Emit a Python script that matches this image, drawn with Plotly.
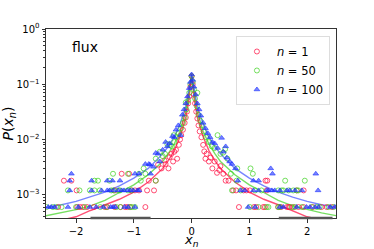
import plotly.graph_objects as go

# ---------------- data ----------------
LEVELS = [6.0e-4, 1.2e-3, 1.8e-3, 2.4e-3, 3.0e-3, 3.6e-3]

# tail (histogram count level) x-positions, keyed by level index (1 = lowest)
red_tail = {
    1: [-2.31, -1.98, -1.93, -1.88, -1.81, -1.69, -1.50, -1.46, -1.33, -1.23, -1.15, -1.11, -1.06, -0.80,
        0.82, 1.08, 1.12, 1.24, 1.27, 1.50, 1.55, 1.65, 1.68, 1.70, 1.76, 1.85, 1.94, 2.10, 2.25, 2.34, 2.43],
    2: [-1.99, -1.33, -1.04, -0.98, -0.91, -0.77, -0.65,
        0.72, 0.77, 0.90, 0.95, 1.01, 1.30, 1.82, 1.94],
    3: [-2.21, -2.08, -0.74, -0.62, 0.59, 0.64, 1.28, 1.31],
    4: [-1.21, -1.08],
}
green_tail = {
    1: [-2.51, -2.40, -2.34, -2.25, -2.00, -1.85, -1.58, -1.47, -1.30, -1.23, -1.07, -1.03, -0.98,
        1.01, 1.16, 1.30, 1.33, 1.50, 1.53, 1.73, 1.79, 1.91, 2.08, 2.17, 2.22, 2.37, 2.46],
    2: [-2.14, -1.94, -1.76, -1.68, -1.59, -1.39, -1.35, -1.26, -1.24, -1.10, -1.04,
        0.70, 0.85, 1.10, 1.21, 1.50, 1.56, 1.59, 1.68, 1.76, 1.82, 1.85],
    3: [-1.68, -1.62, -1.42, -0.88, -0.62, 0.78, 1.62, 1.96],
    4: [-1.36, -1.10, -0.91, -0.80, 0.68, 1.06],
    5: [-0.83, 0.79, 1.02],
}
blue_tail = {
    1: [-2.48, -2.43, -2.37, -2.14, -1.96, -1.76, -1.65, -1.53, -1.40, -1.36, -1.32, -1.16, -1.10, -0.98,
        0.98, 1.10, 1.53, 1.59, 1.82, 1.99, 2.05, 2.14, 2.20, 2.40, 2.48],
    2: [-2.11, -1.73, -1.56, -1.46, -1.42, -1.35, -1.27, -1.21, -1.17, -1.11, -1.06, -1.01, -0.94, -0.91,
        0.85, 0.92, 1.07, 1.16, 1.30, 1.33, 1.39, 1.44, 1.53, 1.65, 1.70, 1.79, 1.91, 2.19],
    3: [-2.11, -1.73, -1.46, -1.37, -1.24, 0.80, 1.07, 1.16],
    4: [-2.08, -0.98, -0.91, -0.71, 1.40, 2.15],
    5: [0.76, 1.37],
    6: [-0.80, -0.74],
}

# central (continuous) points
red_cx = [-0.58, -0.52, -0.47, -0.45, -0.40, -0.38, -0.35, -0.32, -0.30, -0.27, -0.25, -0.22, -0.20, -0.18,
          -0.15, -0.12, -0.10, -0.08, -0.06, -0.04, -0.02, 0.0,
          0.02, 0.04, 0.06, 0.08, 0.10, 0.12, 0.14, 0.17, 0.20, 0.22, 0.24, 0.26, 0.30, 0.33, 0.36, 0.40,
          0.44, 0.48, 0.50, 0.55]
red_cy = [0.0035, 0.0030, 0.0042, 0.0036, 0.0030, 0.0048, 0.0055, 0.0040, 0.0060, 0.0065, 0.0045, 0.0080,
          0.0100, 0.0120, 0.0150, 0.0200, 0.0250, 0.0320, 0.0450, 0.0600, 0.0900, 0.1400,
          0.1000, 0.0650, 0.0450, 0.0320, 0.0240, 0.0180, 0.0140, 0.0110, 0.0080, 0.0061, 0.0045, 0.0055,
          0.0040, 0.0047, 0.0030, 0.0040, 0.0025, 0.0028, 0.0033, 0.0024]
green_cx = [-0.62, -0.55, -0.50, -0.46, -0.42, -0.38, -0.34, -0.31, -0.30, -0.26, -0.22, -0.18, -0.15,
            -0.12, -0.10, -0.09, -0.06, -0.04, -0.02, 0.0,
            0.02, 0.04, 0.06, 0.09, 0.10, 0.12, 0.15, 0.18, 0.21, 0.25, 0.30, 0.35, 0.40, 0.45, 0.50,
            0.55, 0.58, 0.62]
green_cy = [0.0045, 0.0060, 0.0050, 0.0055, 0.0083, 0.0080, 0.0075, 0.0120, 0.0090, 0.0110, 0.0130, 0.0160,
            0.0200, 0.0250, 0.0470, 0.0350, 0.0500, 0.0700, 0.1000, 0.1400,
            0.1100, 0.0800, 0.0550, 0.0400, 0.0700, 0.0280, 0.0220, 0.0180, 0.0140, 0.0110, 0.0090,
            0.0075, 0.0070, 0.0120, 0.0055, 0.0058, 0.0067, 0.0045]
blue_cx = [-0.72, -0.66, -0.62, -0.58, -0.55, -0.50, -0.45, -0.42, -0.38, -0.33, -0.30, -0.27, -0.23,
           -0.19, -0.16, -0.13, -0.10, -0.07, -0.04, -0.02, 0.0,
           0.02, 0.04, 0.07, 0.10, 0.13, 0.16, 0.20, 0.24, 0.28, 0.32, 0.36, 0.40, 0.45, 0.52, 0.55,
           0.59, 0.61, 0.66, 0.70]
blue_cy = [0.0035, 0.0032, 0.0057, 0.0055, 0.0040, 0.0065, 0.0090, 0.0075, 0.0085, 0.0115, 0.0110, 0.0150,
           0.0180, 0.0120, 0.0280, 0.0350, 0.0450, 0.0600, 0.0850, 0.1100, 0.1500,
           0.1200, 0.0900, 0.0650, 0.0450, 0.0350, 0.0270, 0.0200, 0.0160, 0.0130, 0.0110, 0.0090,
           0.0085, 0.0070, 0.0107, 0.0060, 0.0075, 0.0047, 0.0040, 0.0036]

# fitted curves
line_x = [-2.6, -2.5, -2.25, -2.0, -1.75, -1.5, -1.25, -1.0, -0.75, -0.5, -0.4, -0.3, -0.2, -0.1, -0.05, 0.0,
          0.05, 0.1, 0.2, 0.3, 0.4, 0.5, 0.75, 1.0, 1.25, 1.5, 1.75, 2.0, 2.25, 2.5, 2.6]
red_line = [3.2e-4, 3.0e-4, 3.5e-4, 4.0e-4, 5.2e-4, 6.6e-4, 8.3e-4, 1.12e-3, 1.7e-3, 3.0e-3, 4.2e-3, 6.3e-3,
            1.12e-2, 2.5e-2, 5.0e-2, 0.151,
            5.0e-2, 2.5e-2, 1.12e-2, 6.3e-3, 4.2e-3, 3.0e-3, 1.7e-3, 1.12e-3, 8.3e-4, 6.6e-4, 5.2e-4, 4.0e-4,
            3.5e-4, 3.0e-4, 3.2e-4]
green_line = [4.0e-4, 4.2e-4, 4.7e-4, 5.4e-4, 6.3e-4, 7.9e-4, 1.1e-3, 1.51e-3, 2.3e-3, 4.0e-3, 5.6e-3, 8.3e-3,
              1.41e-2, 3.2e-2, 6.3e-2, 0.151,
              6.3e-2, 3.2e-2, 1.41e-2, 8.3e-3, 5.6e-3, 4.0e-3, 2.3e-3, 1.51e-3, 1.1e-3, 7.9e-4, 6.3e-4, 5.4e-4,
              4.7e-4, 4.2e-4, 4.0e-4]
blue_line = [5.7e-4, 5.9e-4, 6.6e-4, 7.6e-4, 9.1e-4, 1.12e-3, 1.45e-3, 2.0e-3, 3.0e-3, 5.5e-3, 7.6e-3, 1.12e-2,
             1.9e-2, 4.0e-2, 7.6e-2, 0.151,
             7.6e-2, 4.0e-2, 1.9e-2, 1.12e-2, 7.6e-3, 5.5e-3, 3.0e-3, 2.0e-3, 1.45e-3, 1.12e-3, 9.1e-4, 7.6e-4,
             6.6e-4, 5.9e-4, 5.7e-4]

x_ticks = [-2, -1, 0, 1, 2]
x_tick_text = ["\u22122", "\u22121", "0", "1", "2"]
y_ticks = [1e-3, 1e-2, 1e-1, 1e0]
y_tick_text = ["10<sup>\u22123</sup>", "10<sup>\u22122</sup>", "10<sup>\u22121</sup>", "10<sup>0</sup>"]
labels = ["<i>n</i> = 1", "<i>n</i> = 50", "<i>n</i> = 100"]
# darker stretches seen on the bottom spine (x ranges)
spine_marks = [(-1.75, -0.71), (1.51, 2.44)]

# ---------------- figure ----------------
RED = "rgba(255,20,70,0.75)"
GREEN = "rgba(60,210,30,0.7)"
BLUE = "rgba(30,50,255,0.6)"


def gather(tail, cx, cy):
    xs, ys = [], []
    for lvl, xl in tail.items():
        xs += xl
        ys += [LEVELS[lvl - 1]] * len(xl)
    return xs + cx, ys + cy


fig = go.Figure()

for yl, col in [(red_line, RED), (green_line, GREEN), (blue_line, BLUE)]:
    fig.add_trace(go.Scatter(x=line_x, y=yl, mode="lines", line=dict(color=col, width=1.4),
                             showlegend=False, hoverinfo="skip"))

specs = [
    (red_tail, red_cx, red_cy, RED, "circle-open", labels[0], 5),
    (green_tail, green_cx, green_cy, GREEN, "circle-open", labels[1], 5),
    (blue_tail, blue_cx, blue_cy, BLUE, "triangle-up", labels[2], 5),
]
for tail, cx, cy, col, sym, name, sz in specs:
    xs, ys = gather(tail, cx, cy)
    fig.add_trace(go.Scatter(
        x=xs, y=ys, mode="markers", name=name,
        marker=dict(symbol=sym, size=sz, color=col, line=dict(color=col, width=1)),
    ))

for x0, x1 in spine_marks:
    fig.add_shape(type="line", xref="x", yref="paper", x0=x0, x1=x1, y0=0, y1=0,
                  line=dict(color="#555", width=2.5), layer="above")

fig.add_annotation(x=0.083, y=0.905, xref="paper", yref="paper", text="flux", showarrow=False,
                   xanchor="left", yanchor="middle", font=dict(size=14, color="black"))
# x-axis title
fig.add_annotation(x=0.5, y=-0.12, xref="paper", yref="paper", text="<i>x</i><sub><i>n</i></sub>",
                   showarrow=False, xanchor="center", yanchor="middle",
                   font=dict(size=13, color="black", family="DejaVu Sans"))

fig.update_xaxes(range=[-2.52, 2.5], tickvals=x_ticks, ticktext=x_tick_text, automargin=False,
                 showline=True, linecolor="#333", linewidth=1, mirror=True,
                 ticks="outside", ticklen=3.5, tickcolor="#333", showgrid=False, zeroline=False,
                 tickfont=dict(size=10, color="black", family="DejaVu Sans"))
minor_y = [m * 10 ** e for e in [-4, -3, -2, -1] for m in range(2, 10) if m * 10 ** e > 3.8e-4]
fig.update_yaxes(type="log", range=[-3.42, 0], tickvals=y_ticks, ticktext=y_tick_text, automargin=False,
                 showline=True, linecolor="#333", linewidth=1, mirror=True,
                 ticks="outside", ticklen=3.5, tickcolor="#333", showgrid=False, zeroline=False,
                 minor=dict(tickvals=minor_y, ticks="outside", ticklen=2, tickcolor="#333"),
                 tickfont=dict(size=10, color="black", family="DejaVu Sans"),
                 title=dict(text="<i>P</i>(<i>x</i><sub><i>n</i></sub>)", font=dict(size=14, color="black",
                            family="DejaVu Sans"), standoff=3))

fig.update_layout(
    width=374, height=249,
    margin=dict(l=46, r=38, t=29, b=31, autoexpand=False),
    paper_bgcolor="white", plot_bgcolor="white",
    font=dict(family="DejaVu Sans", size=12, color="black"),
    legend=dict(x=0.979, y=0.963, xanchor="right", yanchor="top",
                bgcolor="rgba(255,255,255,0.8)", bordercolor="#dddddd", borderwidth=1,
                font=dict(size=11.5, family="DejaVu Sans"),
                tracegroupgap=2, itemwidth=30),
)

fig.write_html("out.html", config={"displayModeBar": False},
               post_script="document.body.style.margin='0';document.body.style.padding='0';")
